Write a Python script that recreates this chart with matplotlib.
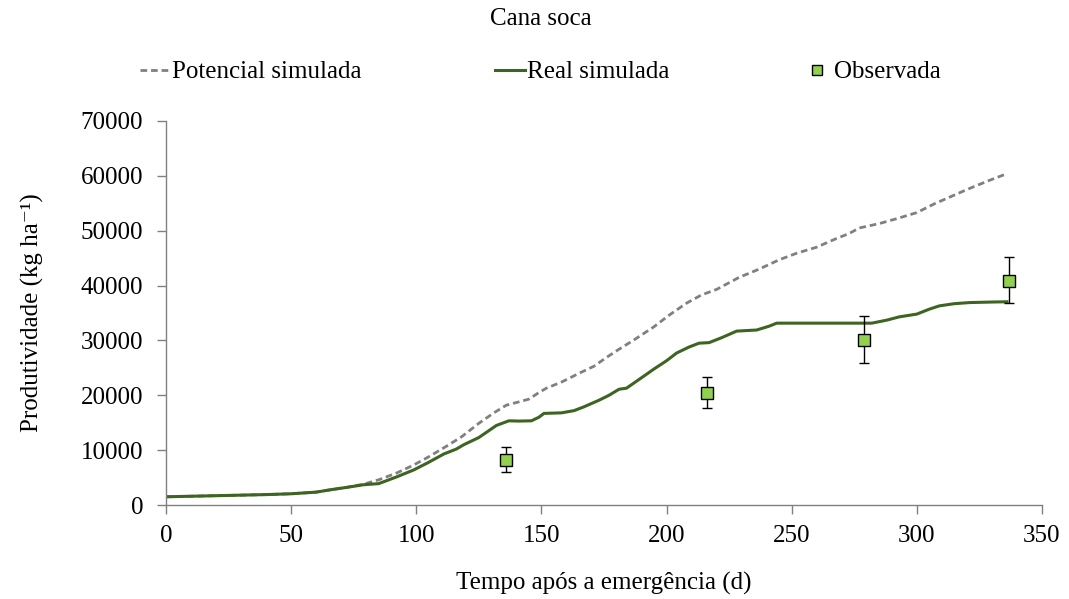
import matplotlib
matplotlib.use("Agg")
import matplotlib.pyplot as plt
from matplotlib.lines import Line2D

plt.rcParams["font.family"] = ["Liberation Serif", "DejaVu Serif"]

# Simulated potential yield (days after emergence, kg/ha)
dias_potencial = [0, 20, 40, 50, 60, 66, 72, 79, 85, 92, 99, 105, 112, 118, 125,
                  131, 136, 141, 145, 149, 152, 158, 165, 171, 176, 180, 187, 195,
                  201, 208, 214, 220, 229, 237, 245, 252, 260, 268, 273, 277, 285,
                  292, 300, 307, 313, 320, 328, 336]
potencial = [1500, 1700, 1900, 2050, 2350, 2800, 3200, 3800, 4600, 5800, 7300, 8800,
             10700, 12400, 14900, 16800, 18200, 18800, 19300, 20500, 21300, 22400,
             24000, 25300, 26900, 28100, 30100, 32500, 34600, 36800, 38300, 39300,
             41500, 43000, 44700, 45900, 47000, 48600, 49500, 50500, 51300, 52200,
             53300, 54900, 56100, 57500, 59000, 60400]

# Simulated actual yield
dias_real = [0, 20, 40, 50, 60, 66, 72, 79, 85, 92, 99, 105, 111, 116, 119, 125, 132,
             137, 141, 146, 149, 151, 158, 163, 167, 173, 177, 181, 184, 190, 195,
             200, 204, 209, 213, 217, 222, 228, 236, 241, 244, 260, 282, 288, 293,
             300, 305, 309, 315, 321, 330, 336]
real = [1500, 1700, 1900, 2050, 2350, 2800, 3200, 3700, 3900, 5100, 6400, 7800, 9300,
        10200, 11000, 12300, 14500, 15350, 15300, 15350, 16000, 16700, 16800, 17200,
        17900, 19100, 20000, 21100, 21300, 23200, 24800, 26300, 27700, 28800, 29500,
        29600, 30500, 31700, 31900, 32600, 33150, 33150, 33150, 33700, 34300, 34800,
        35700, 36300, 36700, 36900, 37000, 37050]

# Field observations with lower / upper error
dias_obs = [136, 216, 279, 337]
observada = [8200, 20500, 30100, 40900]
erro_inf = [2100, 2800, 4200, 4100]
erro_sup = [2400, 2800, 4350, 4300]

cor_real = "#3D6420"
cor_pot = "#808080"
cor_obs = "#92D050"
tracejado = (0, (2.4, 1.4))
fs = 18

fig = plt.figure(figsize=(10.69, 5.99), dpi=100)
ax = fig.add_axes([0.1553, 0.1569, 0.8194, 0.6411])

ax.plot(dias_potencial, potencial, color=cor_pot, lw=2.0, ls=tracejado,
        dash_capstyle="butt")
ax.plot(dias_real, real, color=cor_real, lw=2.2)
ax.errorbar(dias_obs, observada, yerr=[erro_inf, erro_sup], fmt="s", ms=9,
            mfc=cor_obs, mec="black", mew=1.0, ecolor="black", elinewidth=1.0,
            capsize=3.5, capthick=1.0, zorder=5)

ax.set_xlim(0, 350)
ax.set_ylim(0, 70000)
ax.set_xticks(range(0, 351, 50))
ax.set_yticks(range(0, 70001, 10000))
for s in ("top", "right"):
    ax.spines[s].set_visible(False)
for s in ("left", "bottom"):
    ax.spines[s].set_color("#808080")
    ax.spines[s].set_linewidth(1.0)
ax.tick_params(axis="both", colors="#808080", labelcolor="black", labelsize=fs,
               length=6.5, width=1.0, direction="out")
ax.tick_params(axis="x", pad=8)
ax.tick_params(axis="y", pad=10)

ax.set_xlabel("Tempo após a emergência (d)", fontsize=fs, labelpad=18)
ax.set_ylabel("Produtividade (kg ha⁻¹)", fontsize=fs, labelpad=26)

fig.text(541 / 1069, 1 - 19 / 599, "Cana soca", ha="center", va="center", fontsize=fs)

handles = [
    Line2D([], [], color=cor_pot, lw=2.0, ls=tracejado),
    Line2D([], [], color=cor_real, lw=2.2),
    Line2D([], [], ls="none", marker="s", ms=7, mfc=cor_obs, mec="black", mew=1.0),
]
labels = ["Potencial simulada", "Real simulada", "Observada"]
fig.legend(handles, labels, loc="center left", bbox_to_anchor=(140 / 1069, 1 - 72 / 599),
           ncol=3, frameon=False, fontsize=fs, handlelength=1.2, handletextpad=0.1,
           columnspacing=5.3, borderaxespad=0, borderpad=0)

fig.savefig("out.png", dpi=100, facecolor="white")
